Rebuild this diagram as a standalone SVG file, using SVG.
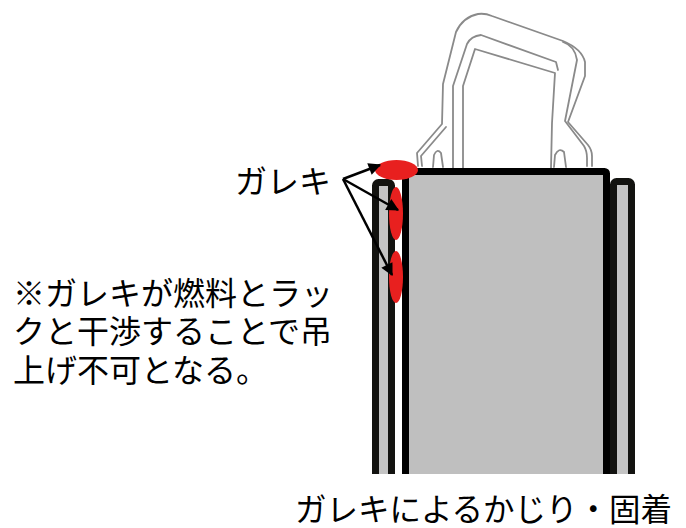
<svg xmlns="http://www.w3.org/2000/svg" width="686" height="528" viewBox="0 0 686 528">
  <defs>
    <clipPath id="cut">
      <rect x="0" y="0" width="686" height="474"/>
    </clipPath>
    <marker id="arrow" viewBox="0 0 10 10" refX="9" refY="5" markerWidth="6" markerHeight="5" markerUnits="strokeWidth" orient="auto">
      <path d="M0,0 L10,5 L0,10 z" fill="#000"/>
    </marker>
  </defs>
  <style>
    .txt { font-family: "Liberation Sans", "Noto Sans CJK JP", sans-serif; font-size: 32px; fill: #000; }
    .wire { fill: none; stroke: #8a8a8a; stroke-width: 1.8; stroke-linejoin: round; stroke-linecap: round; }
    .rail { fill: #c4c4c4; stroke: #131310; stroke-width: 7; }
    .mark { fill: #e8201f; }
    .lead { fill: none; stroke: #000; stroke-width: 2.5; marker-end: url(#arrow); }
  </style>

  <!-- lifting handle -->
  <g id="handle">
    <path class="wire" d="M418,166 L417,153 L442,124 L443,84 L456,32 Q463,17 478,14 Q485,13 492,16 L563,41 Q582,49 585,62 L585,76 L568,122 L588,145 Q592,150 592,156 L592,166"/>
    <path class="wire" d="M453,168 L453,86 L467,44 Q471,36 481,35 L556,62 L558,70"/>
    <path class="wire" d="M463,168 L463,86 L475,49 L555,73 L552,123 L551,168"/>
    <path class="wire" d="M563,42 Q575,46 577,60 L565,121 L584,146 Q587,151 587,158 L587,166"/>
    <path class="wire" d="M422,166 L421,156 L446,127"/>
    <path class="wire" d="M433,167 L434,155 Q437,148 441,153 L443,167"/>
    <path class="wire" d="M554,167 L555,155 Q559,147 564,152 L566,167"/>
  </g>

  <!-- storage rack and fuel -->
  <g id="rack" clip-path="url(#cut)">
    <rect id="rail-left" class="rail" x="375.5" y="182.5" width="16" height="320" rx="3"/>
    <rect id="rail-right" class="rail" x="613.5" y="181.5" width="18" height="320" rx="3"/>
    <rect id="fuel" x="405.5" y="171.5" width="201" height="330" rx="2" fill="#bfbfbf" stroke="#000" stroke-width="7"/>
  </g>

  <!-- debris marks -->
  <g id="debris">
    <ellipse class="mark" cx="396.5" cy="170" rx="21.5" ry="10"/>
    <ellipse class="mark" cx="396" cy="213.5" rx="7" ry="26.5"/>
    <ellipse class="mark" cx="396" cy="277" rx="7" ry="26"/>
  </g>

  <!-- leader arrows -->
  <g id="connectors">
    <line class="lead" x1="343" y1="179" x2="380" y2="165"/>
    <line class="lead" x1="343" y1="179" x2="398" y2="210"/>
    <line class="lead" x1="343" y1="179" x2="392" y2="275"/>
  </g>

  <g id="label-debris">
    <text class="txt" x="235" y="193">ガレキ</text>
  </g>

  <g id="note">
    <text class="txt" x="13" y="305">※ガレキが燃料とラッ</text>
    <text class="txt" x="13" y="343">クと干渉することで吊</text>
    <text class="txt" x="13" y="382">上げ不可となる。</text>
  </g>

  <g id="caption">
    <text class="txt" x="295" y="521" style="font-size:31.5px">ガレキによるかじり・固着</text>
  </g>
</svg>
